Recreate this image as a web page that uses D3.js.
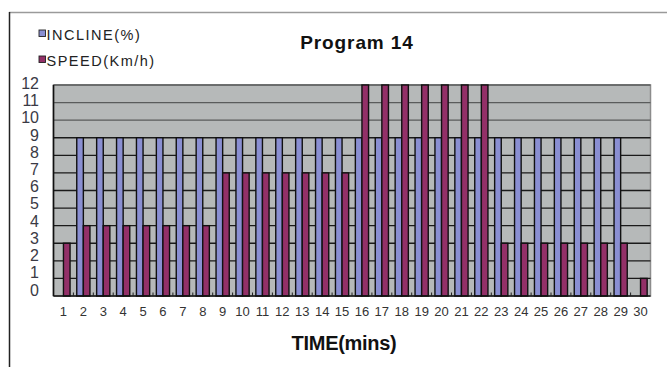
<!DOCTYPE html>
<html>
<head>
<meta charset="utf-8">
<script src="https://cdn.jsdelivr.net/npm/d3@7"></script>
<style>
  html, body { margin: 0; padding: 0; background: #fff; }
  svg { display: block; font-family: "Liberation Sans", Arial, sans-serif; }
</style>
</head>
<body>
<svg id="chart" width="667" height="367"></svg>
<script>
// Program 14: incline and speed per minute
const minutes = d3.range(1, 31);
const incline = [0, 9, 9, 9, 9, 9, 9, 9, 9, 9, 9, 9, 9, 9, 9, 9, 9, 9, 9, 9, 9, 9, 9, 9, 9, 9, 9, 9, 9, 0];
const speed   = [3, 4, 4, 4, 4, 4, 4, 4, 7, 7, 7, 7, 7, 7, 7, 12, 12, 12, 12, 12, 12, 12, 3, 3, 3, 3, 3, 3, 3, 1];
const yTicks = d3.range(0, 13);
const seriesNames = ["INCLINE(%)", "SPEED(Km/h)"];
const seriesColors = ["#8a8fd2", "#933068"];

const svg = d3.select("#chart");

// outer frame
svg.append("line").attr("x1", 9).attr("x2", 667).attr("y1", 12.5).attr("y2", 12.5)
  .attr("stroke", "#9a9a9a").attr("stroke-width", 1.5);
svg.append("line").attr("x1", 9.5).attr("x2", 9.5).attr("y1", 12).attr("y2", 367)
  .attr("stroke", "#222").attr("stroke-width", 1.5);

const plot = { left: 53.5, right: 650.5, top: 85, bottom: 296 };

const x = d3.scaleBand().domain(minutes).range([plot.left, plot.right]).padding(0);
const y = d3.scaleLinear().domain([0, 12]).range([plot.bottom, plot.top]);
const yLabel = d3.scaleLinear().domain([0, 12]).range([290, 83.5]);

// plot background
svg.append("rect")
  .attr("x", plot.left).attr("y", plot.top)
  .attr("width", plot.right - plot.left).attr("height", plot.bottom - plot.top)
  .attr("fill", "#b6b9b9").attr("stroke", "#8c8c8c").attr("stroke-width", 1.5);

// horizontal gridlines
svg.append("g").selectAll("line").data(yTicks.slice(1)).join("line")
  .attr("x1", plot.left).attr("x2", plot.right)
  .attr("y1", d => y(d)).attr("y2", d => y(d))
  .attr("stroke", d => d > 9 ? "#5a5c5c" : "#1a1a1a").attr("stroke-width", 1.4);

// bars
const bw = 6.6;
const groups = svg.append("g").selectAll("g").data(minutes).join("g");
[incline, speed].forEach((vals, si) => {
  groups.filter((d, i) => vals[i] > 0).append("rect")
    .attr("x", d => x(d) + x.bandwidth() / 2 - bw + si * bw)
    .attr("y", d => y(vals[d - 1]))
    .attr("width", bw)
    .attr("height", d => y(0) - y(vals[d - 1]))
    .attr("fill", seriesColors[si])
    .attr("stroke", "#111").attr("stroke-width", 1.4);
});

// axes lines
svg.append("line").attr("x1", plot.left).attr("x2", plot.right).attr("y1", plot.bottom).attr("y2", plot.bottom)
  .attr("stroke", "#111").attr("stroke-width", 1.6);
svg.append("line").attr("x1", plot.left).attr("x2", plot.left).attr("y1", plot.top).attr("y2", plot.bottom)
  .attr("stroke", "#111").attr("stroke-width", 1.6);

// small ticks on the category boundaries
svg.append("g").selectAll("line").data(minutes.slice(1)).join("line")
  .attr("x1", d => x(d)).attr("x2", d => x(d))
  .attr("y1", plot.bottom).attr("y2", plot.bottom - 3.5)
  .attr("stroke", "#222").attr("stroke-width", 1);

// y tick labels
svg.append("g").selectAll("text").data(yTicks).join("text")
  .attr("x", 39).attr("y", d => yLabel(d))
  .attr("text-anchor", "end").attr("dominant-baseline", "central")
  .attr("font-size", 16).attr("fill", "#3a3a45")
  .text(d => d);

// x tick labels
svg.append("g").selectAll("text").data(minutes).join("text")
  .attr("x", d => x(d) + x.bandwidth() / 2).attr("y", 316)
  .attr("text-anchor", "middle")
  .attr("font-size", 13).attr("fill", "#333")
  .text(d => d);

// title
svg.append("text").attr("x", 357).attr("y", 49)
  .attr("text-anchor", "middle").attr("font-size", 19).attr("font-weight", "bold")
  .attr("letter-spacing", 0.9)
  .attr("fill", "#111").text("Program 14");

// x axis title
svg.append("text").attr("x", 344).attr("y", 350)
  .attr("text-anchor", "middle").attr("font-size", 20).attr("font-weight", "bold")
  .attr("letter-spacing", -0.3)
  .attr("fill", "#111").text("TIME(mins)");

// legend
const legend = svg.append("g").selectAll("g").data(seriesNames).join("g")
  .attr("transform", (d, i) => `translate(39, ${30 + i * 26})`);
legend.append("rect").attr("width", 6.5).attr("height", 6.5)
  .attr("fill", (d, i) => seriesColors[i]).attr("stroke", "#222").attr("stroke-width", 0.9);
legend.append("text").attr("x", 7.5).attr("y", 9.5)
  .attr("font-size", 14.5).attr("fill", "#222").attr("letter-spacing", 1.5)
  .text(d => d);
</script>
</body>
</html>
